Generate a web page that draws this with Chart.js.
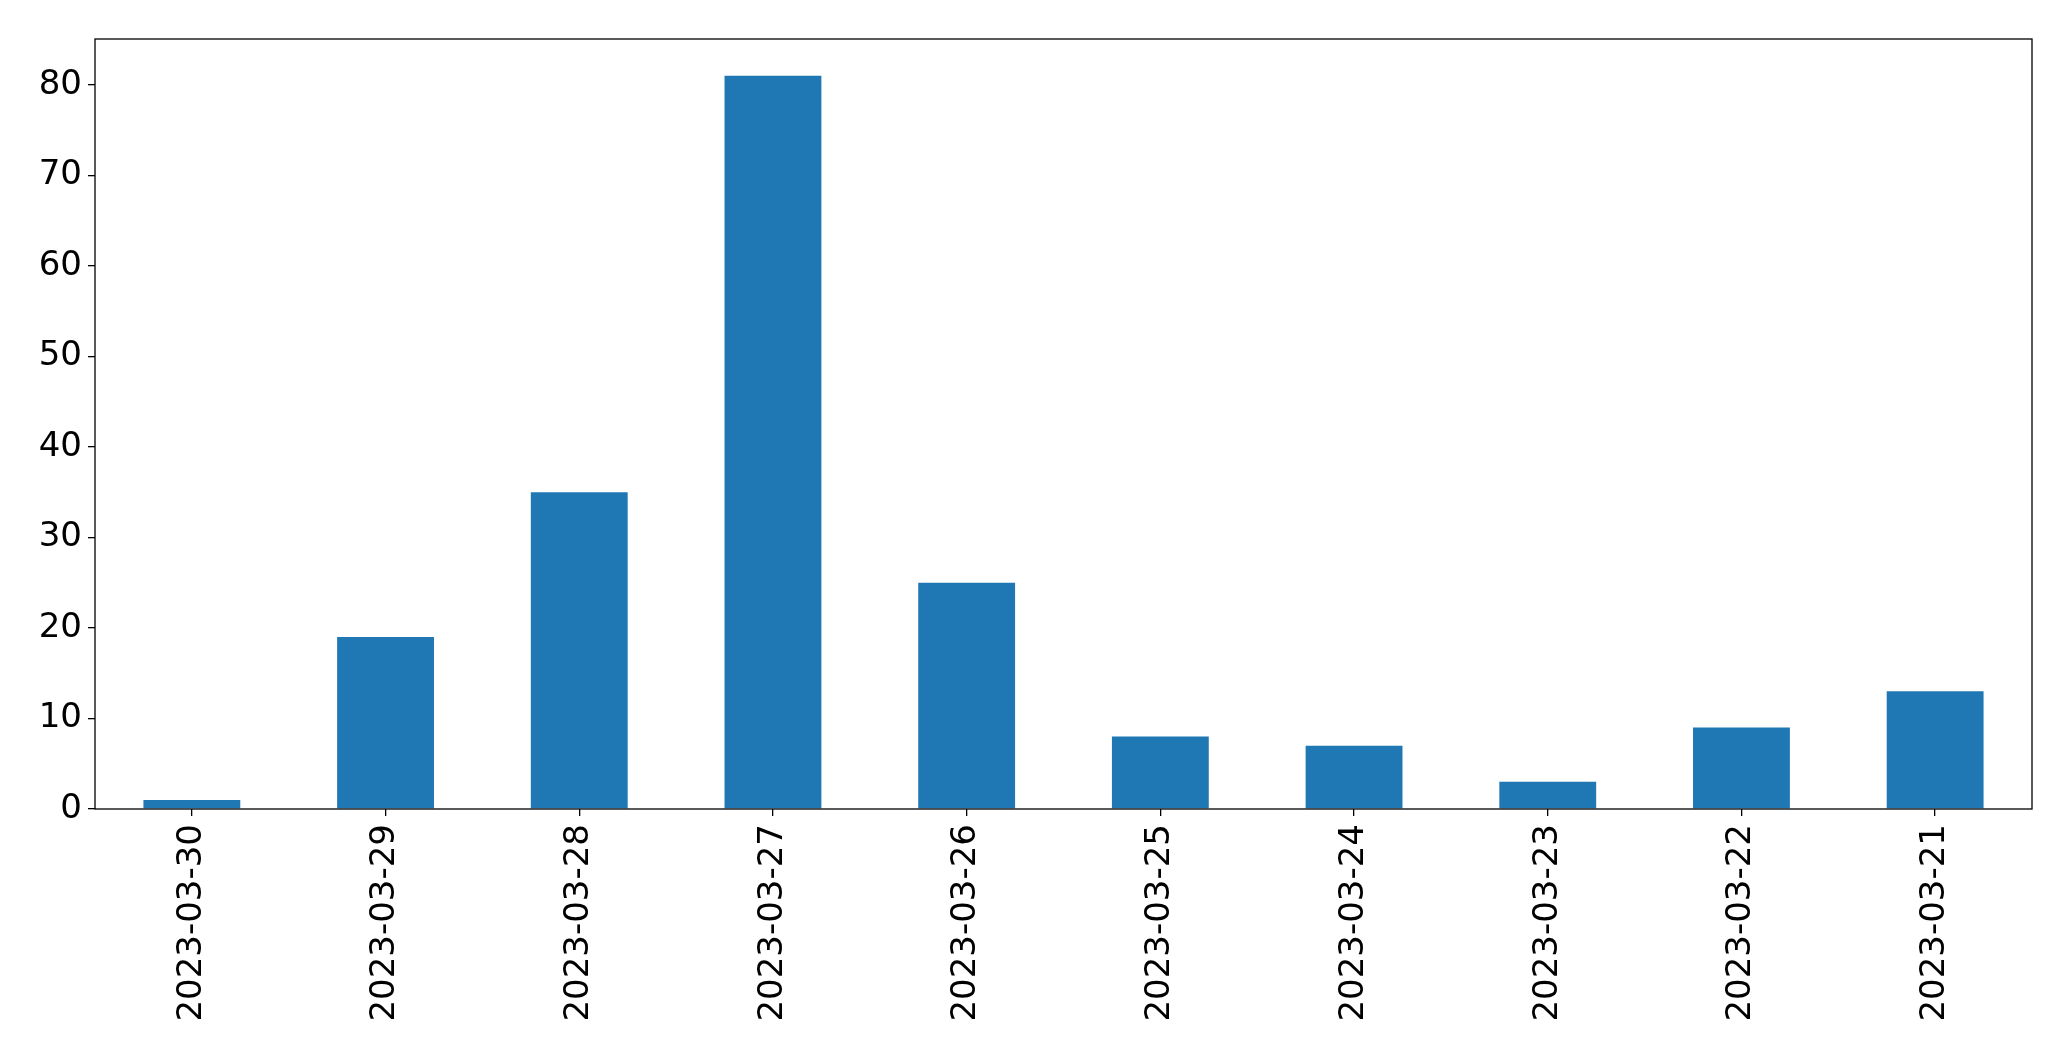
<!DOCTYPE html>
<html>
<head>
<meta charset="utf-8">
<script src="https://cdn.jsdelivr.net/npm/chart.js@4"></script>
<style>
  html, body { margin: 0; padding: 0; background: #fff; }
  #wrap { width: 2071px; height: 1061px; }
</style>
</head>
<body>
<div id="wrap"><canvas id="chart"></canvas></div>
<script>
const dates = ["2023-03-30", "2023-03-29", "2023-03-28", "2023-03-27", "2023-03-26",
               "2023-03-25", "2023-03-24", "2023-03-23", "2023-03-22", "2023-03-21"];
const counts = [1, 19, 35, 81, 25, 8, 7, 3, 9, 13];
const yTicks = [0, 10, 20, 30, 40, 50, 60, 70, 80];

// box around the plot area, like matplotlib spines
const frame = {
    id: "frame",
    afterDraw(chart) {
        const a = chart.chartArea, ctx = chart.ctx;
        ctx.save();
        ctx.strokeStyle = "#000";
        ctx.lineWidth = 1.3;
        ctx.strokeRect(a.left, a.top, a.right - a.left, a.bottom - a.top);
        ctx.restore();
    }
};

const font = { family: "'DejaVu Sans'", size: 34 };

new Chart(document.getElementById("chart"), {
    type: "bar",
    data: {
        labels: dates,
        datasets: [{
            data: counts,
            backgroundColor: "#1f77b4",
            barPercentage: 0.5,
            categoryPercentage: 1.0
        }]
    },
    options: {
        responsive: true,
        maintainAspectRatio: false,
        animation: false,
        layout: { padding: { top: 39, right: 39, left: 0, bottom: 0 } },
        plugins: { legend: { display: false }, tooltip: { enabled: false } },
        scales: {
            x: {
                offset: true,
                grid: { display: true, drawOnChartArea: false, offset: false, tickLength: 7, color: "#000", lineWidth: 1.3 },
                border: { display: false },
                ticks: { color: "#000", font: font, maxRotation: 90, minRotation: 90, padding: 8, autoSkip: false },
                afterFit(axis) { axis.height = 252; }
            },
            y: {
                min: 0,
                max: 85.05,
                grid: { display: true, drawOnChartArea: false, tickLength: 7, color: "#000", lineWidth: 1.3 },
                border: { display: false },
                ticks: { color: "#000", font: font, padding: 6 },
                afterBuildTicks(axis) { axis.ticks = yTicks.map(v => ({ value: v })); },
                afterFit(axis) { axis.width = 95; }
            }
        }
    },
    plugins: [frame]
});
</script>
</body>
</html>
